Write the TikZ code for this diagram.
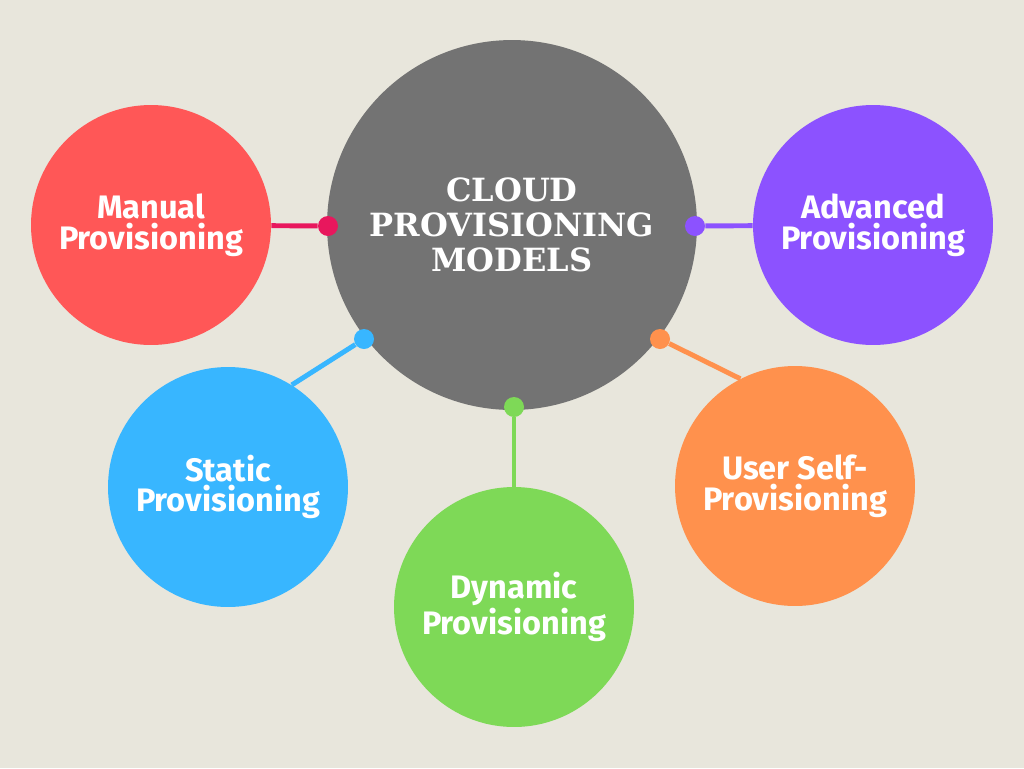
\documentclass[tikz,border=0pt]{standalone}
\usepackage{fontspec}
\setmainfont{Fira Sans}
\newfontfamily\titlefont{DejaVu Serif}
\usepackage{xcolor}
\definecolor{Canvas}{HTML}{E8E6DC}
\definecolor{Slate Gray}{HTML}{737373}
\definecolor{Coral Red}{HTML}{FF5757}
\definecolor{Raspberry}{HTML}{E8175D}
\definecolor{Sky Blue}{HTML}{38B6FF}
\definecolor{Lime Green}{HTML}{7ED957}
\definecolor{Tangerine}{HTML}{FF914D}
\definecolor{Violet}{HTML}{8C52FF}
\usetikzlibrary{positioning}
\tikzset{
	model/.style={
		circle,
		fill=#1,
		minimum size=4.8cm,
		inner sep=0pt,
		align=center,
		text=white,
		font=\bfseries\fontsize{18.5}{17.5}\selectfont
	},
	hub/.style={
		circle,
		fill=Slate Gray,
		minimum size=7.4cm,
		inner sep=0pt,
		align=center,
		text=white,
		font=\titlefont\bfseries\fontsize{18.2}{20}\selectfont
	},
	knob/.style={
		circle,
		fill=#1,
		minimum size=.4cm,
		inner sep=0pt
	},
	link/.style={
		draw=#1,
		line width=2.8pt
	}
}

\begin{document}
\begin{tikzpicture}[x=.02cm, y=-.02cm]
		\fill[Canvas] (0,0) rectangle (1024,768);

		\node[hub] at (512,225) (cloud) {CLOUD\\PROVISIONING\\MODELS};

		\node[model=Coral Red] at (151,225) (manual) {Manual\\Provisioning};
		\node[model=Violet] at (873,225) (advanced) {Advanced\\Provisioning};
		\node[model=Sky Blue] at (228,487) (static) {Static\\Provisioning};
		\node[model=Lime Green] at (514,607) (dynamic) {Dynamic\\Provisioning};
		\node[model=Tangerine] at (795,486) (user) {User Self-\\Provisioning};

		\node[knob=Raspberry] at (328,226) (k1) {};
		\node[knob=Violet] at (695,226) (k2) {};
		\node[knob=Sky Blue] at (364,339) (k3) {};
		\node[knob=Lime Green] at (514,407) (k4) {};
		\node[knob=Tangerine] at (660,339) (k5) {};

		\draw[link=Raspberry] (k1) -- (manual);
		\draw[link=Violet] (k2) -- (advanced);
		\draw[link=Sky Blue] (k3) -- (static.58);
		\draw[link=Lime Green] (k4) -- (dynamic);
		\draw[link=Tangerine] (k5) -- (user.117);
	\end{tikzpicture}
\end{document}
